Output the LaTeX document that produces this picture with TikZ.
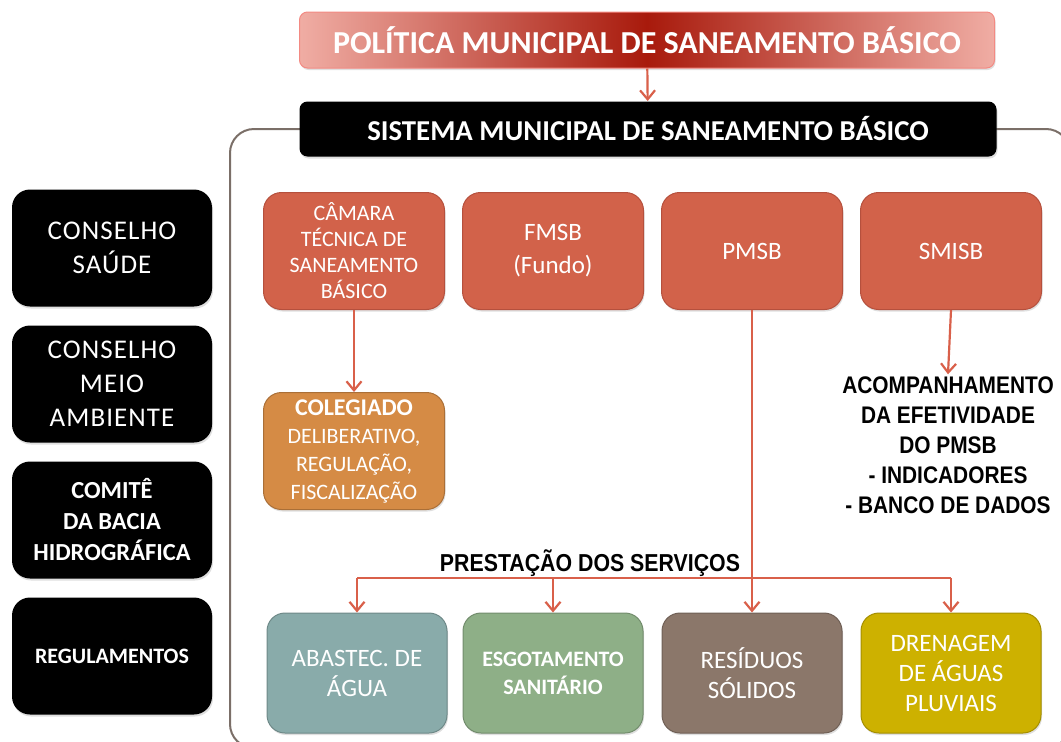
\documentclass[tikz,border=0pt]{standalone}
\usepackage{fontspec}
\setmainfont{Carlito}
\newfontfamily\narrowfont[FakeStretch=0.87]{Liberation Sans}
\usetikzlibrary{positioning, arrows, arrows.meta, shadows}
\definecolor{polred}{HTML}{A81A0C}
\definecolor{polpink}{HTML}{F0ADA4}
\definecolor{boxred}{HTML}{D2624A}
\definecolor{boxredline}{HTML}{B5503D}
\definecolor{colorange}{HTML}{D58B45}
\definecolor{arrred}{HTML}{D9604A}
\definecolor{framegray}{HTML}{7B6F68}
\definecolor{agua}{HTML}{89ABAA}
\definecolor{esgoto}{HTML}{8EAF87}
\definecolor{residuo}{HTML}{8B776A}
\definecolor{drenagem}{HTML}{CDB100}
\tikzset{>={Straight Barb[length=9pt, width=15pt]}, node distance=199pt,
every box/.style={rounded corners=18pt, align=center, text=white, line width=1pt,
  drop shadow={opacity=0.25, shadow xshift=1pt, shadow yshift=-2pt}},
blackbox/.style={every box, fill=black, minimum width=200pt, minimum height=117pt},
redbox/.style={every box, fill=boxred, draw=boxredline, minimum width=181pt, minimum height=117pt},
servbox/.style={every box, draw=#1!80!black, fill=#1, minimum width=180pt, minimum height=120pt},
arr/.style={->, draw=arrred, line width=2.2pt},
}

\begin{document}
\begin{tikzpicture}[x=1pt, y=-1pt]
            \useasboundingbox (0,0) rectangle (1061,742);
            \clip (0,0) rectangle (1061,742);
            % frame of the system
            \draw[framegray, line width=2pt, rounded corners=24pt] (230,129) rectangle (1070,748);

            \node[every box, rounded corners=8pt, draw=polpink!80!red, left color=polpink, right color=polpink, middle color=polred,
                minimum width=695pt, minimum height=56pt, font=\fontsize{32}{36}\selectfont\bfseries](pol) at (647,40) {POLÍTICA MUNICIPAL DE SANEAMENTO BÁSICO};
            \node[every box, rounded corners=8pt, fill=black, minimum width=697pt, minimum height=55pt,
                font=\fontsize{28.8}{32}\selectfont\bfseries](sis) at (648,129) {SISTEMA MUNICIPAL DE SANEAMENTO BÁSICO};

            \node[blackbox, font=\fontsize{27}{34}\selectfont\addfontfeatures{LetterSpace=4}](cs) at (112,248) {CONSELHO\\SAÚDE};
            \node[blackbox, font=\fontsize{27}{34}\selectfont\addfontfeatures{LetterSpace=4}](cma) at (112,384) {CONSELHO\\MEIO\\AMBIENTE};
            \node[blackbox, font=\fontsize{24.5}{31}\selectfont\bfseries](cbh) at (112,520) {COMITÊ\\DA BACIA\\HIDROGRÁFICA};
            \node[blackbox, font=\fontsize{22}{24}\selectfont\bfseries](reg) at (112,656) {REGULAMENTOS};

            \node[redbox, font=\fontsize{22}{26}\selectfont](cam) at (354,251) {CÂMARA\\TÉCNICA DE\\SANEAMENTO\\BÁSICO};
            \node[redbox, right of=cam, font=\fontsize{25}{33}\selectfont](fmsb) {FMSB\\(Fundo)};
            \node[redbox, right of=fmsb, font=\fontsize{25}{30}\selectfont](pmsb) {PMSB};
            \node[redbox, right of=pmsb, font=\fontsize{25}{30}\selectfont](smisb) {SMISB};
            \node[redbox, fill=colorange, draw=colorange!80!black, font=\fontsize{22}{28}\selectfont](col) at (354,451)
                {{\fontsize{24}{28}\selectfont\bfseries COLEGIADO}\\DELIBERATIVO,\\REGULAÇÃO,\\FISCALIZAÇÃO};

            \node[align=center, inner sep=2pt, font=\narrowfont\bfseries\fontsize{24}{30}\selectfont](acomp) at (948,445)
                {ACOMPANHAMENTO\\DA EFETIVIDADE\\DO PMSB\\- INDICADORES\\- BANCO DE DADOS};
            \node[inner sep=2pt, font=\narrowfont\bfseries\fontsize{24.5}{26}\selectfont](prest) at (590,563) {PRESTAÇÃO DOS SERVIÇOS};

            \node[servbox=agua, font=\fontsize{25}{30}\selectfont](abas) at (357,673) {ABASTEC. DE\\ÁGUA};
            \node[servbox=esgoto, right of=abas, xshift=-3pt, font=\fontsize{22}{28}\selectfont\bfseries](esg) {ESGOTAMENTO\\SANITÁRIO};
            \node[servbox=residuo, right of=esg, font=\fontsize{25}{30}\selectfont](res) {RESÍDUOS\\SÓLIDOS};
            \node[servbox=drenagem, right of=res, font=\fontsize{25}{30}\selectfont](dren) {DRENAGEM\\DE ÁGUAS\\PLUVIAIS};

            \coordinate (bar) at (0,578);
            \draw[arr] (pol) -- (sis);
            \draw[arr] (cam) -- (col);
            \draw[arr] (smisb.south) -- (acomp.north);
            \draw[arr] (pmsb) -- (res);
            \draw[draw=arrred, line width=2.2pt] (abas.north |- bar) -- (dren.north |- bar);
            \draw[arr] (abas.north |- bar) -- (abas);
            \draw[arr] (esg.north |- bar) -- (esg);
            \draw[arr] (dren.north |- bar) -- (dren);
        \end{tikzpicture}
\end{document}
